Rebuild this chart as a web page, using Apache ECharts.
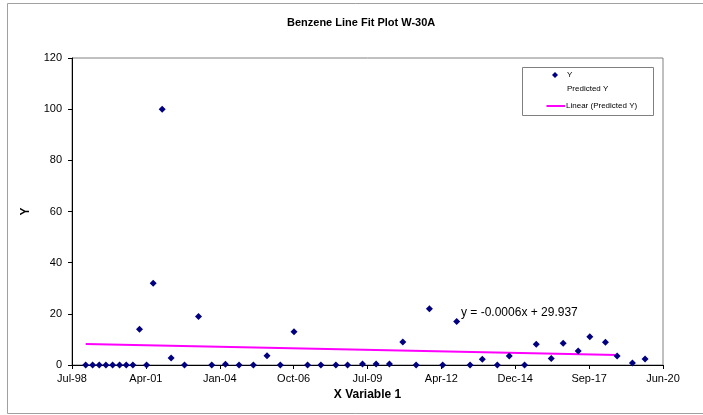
<!DOCTYPE html>
<html>
<head>
<meta charset="utf-8">
<script src="https://cdn.jsdelivr.net/npm/echarts@6/dist/echarts.min.js"></script>
<style>
  html, body { margin: 0; padding: 0; background: #fff; }
  #chart { width: 703px; height: 415px; }
</style>
</head>
<body>
<div id="chart"></div>
<script>
// Sample dates as spreadsheet serial day numbers (days since 1899-12-30)
const sampleDates = [
  36185, 36279, 36369, 36459, 36550, 36644, 36734, 36824, 36914, 37009,
  37099, 37221, 37342, 37523, 37712, 37892, 38077, 38261, 38455, 38640,
  38820, 39005, 39189, 39369, 39572, 39730, 39932, 40117, 40297, 40478,
  40658, 40838, 41018, 41207, 41388, 41554, 41757, 41919, 42126, 42284,
  42487, 42649, 42852, 43009, 43221, 43379, 43586, 43757
];
// Benzene concentration (Y) per sample
const benzeneY = [
  0, 0, 0, 0, 0, 0, 0, 0, 14, 0,
  32, 100, 2.7, 0, 19, 0, 0.3, 0, 0, 3.6,
  0, 13, 0, 0, 0, 0, 0.4, 0.4, 0.4, 9,
  0, 22, 0, 17, 0, 2.2, 0, 3.5, 0, 8.1,
  2.5, 8.5, 5.5, 11, 8.9, 3.5, 0.8, 2.3
];
// Linear trend of Predicted Y: y = slope * x + intercept, over the predicted range
const trendCoef = [-0.0006, 29.937];
const trendRange = [36185, 43379];
const trendLabel = ['y = -0.0006x + 29.937'];
// Axis scales
const xAxisRange = [36000, 44000, 1000];
const yAxisRange = [0, 120, 20];
const monthNames = ['Jan','Feb','Mar','Apr','May','Jun','Jul','Aug','Sep','Oct','Nov','Dec'];

function serialToLabel(serial) {
  const d = new Date(Date.UTC(1899, 11, 30) + serial * 86400000);
  const yy = String(d.getUTCFullYear() % 100).padStart(2, '0');
  return monthNames[d.getUTCMonth()] + '-' + yy;
}

const points = sampleDates.map((x, i) => [x, benzeneY[i]]);
const trendPoints = trendRange.map(x => [x, trendCoef[0] * x + trendCoef[1]]);

const FONT = 'Liberation Sans, Arial, sans-serif';
const chart = echarts.init(document.getElementById('chart'), null, { renderer: 'canvas' });

chart.setOption({
  animation: false,
  backgroundColor: '#ffffff',
  title: {
    text: 'Benzene Line Fit Plot W-30A',
    left: 282,
    top: 12,
    textStyle: { fontFamily: FONT, fontSize: 11, fontWeight: 'bold', color: '#000' }
  },
  grid: {
    left: 72, right: 40, top: 58, bottom: 50,
    show: true, borderColor: '#808080', borderWidth: 1, backgroundColor: '#fff'
  },
  xAxis: {
    type: 'value',
    min: xAxisRange[0], max: xAxisRange[1], interval: xAxisRange[2],
    name: 'X Variable 1',
    nameLocation: 'middle',
    nameGap: 20,
    nameTextStyle: { fontFamily: FONT, fontSize: 12, fontWeight: 'bold', color: '#000' },
    axisLine: { show: true, onZero: false, lineStyle: { color: '#000', width: 1 } },
    axisTick: { show: true, length: 4, lineStyle: { color: '#000' } },
    axisLabel: {
      fontFamily: FONT, fontSize: 11, color: '#000', margin: 8,
      formatter: v => serialToLabel(v)
    },
    splitLine: { show: false }
  },
  yAxis: {
    type: 'value',
    min: yAxisRange[0], max: yAxisRange[1], interval: yAxisRange[2],
    name: 'Y',
    nameLocation: 'middle',
    nameGap: 40,
    nameRotate: 90,
    nameTextStyle: { fontFamily: FONT, fontSize: 12, fontWeight: 'bold', color: '#000' },
    axisLine: { show: true, lineStyle: { color: '#000', width: 1 } },
    axisTick: { show: true, length: 4, lineStyle: { color: '#000' } },
    axisLabel: { fontFamily: FONT, fontSize: 11, color: '#000', margin: 10 },
    splitLine: { show: false }
  },
  series: [
    {
      name: 'Linear (Predicted Y)',
      type: 'line',
      data: trendPoints,
      symbol: 'none',
      lineStyle: { color: '#ff00ff', width: 2 },
      z: 2
    },
    {
      name: 'Y',
      type: 'scatter',
      data: points,
      symbol: 'diamond',
      symbolSize: 7,
      itemStyle: { color: '#000080', opacity: 1 },
      z: 3
    }
  ],
  graphic: [
    // chart area border
    { type: 'rect', shape: { x: 7.5, y: 3.5, width: 720, height: 410 },
      style: { fill: 'none', stroke: '#a0a0a0', lineWidth: 1 }, z: 0, silent: true },
    // legend box
    { type: 'rect', shape: { x: 522.5, y: 67.5, width: 131, height: 48 },
      style: { fill: '#fff', stroke: '#808080', lineWidth: 1 }, z: 10 },
    { type: 'polygon', shape: { points: [[555, 72], [558, 75], [555, 78], [552, 75]] },
      style: { fill: '#000080' }, z: 11 },
    { type: 'text', left: 567, top: 71,
      style: { text: 'Y', fontFamily: FONT, fontSize: 8, fill: '#000' }, z: 11 },
    { type: 'text', left: 567, top: 85,
      style: { text: 'Predicted Y', fontFamily: FONT, fontSize: 8, fill: '#000' }, z: 11 },
    { type: 'line', shape: { x1: 546.5, y1: 106, x2: 565, y2: 106 },
      style: { stroke: '#ff00ff', lineWidth: 2 }, z: 11 },
    { type: 'text', left: 566, top: 102,
      style: { text: 'Linear (Predicted Y)', fontFamily: FONT, fontSize: 8, fill: '#000' }, z: 11 },
    // trendline equation
    { type: 'text', left: 461, top: 307,
      style: { text: trendLabel[0], fontFamily: FONT, fontSize: 12, fill: '#000' }, z: 11 }
  ]
});
</script>
</body>
</html>
